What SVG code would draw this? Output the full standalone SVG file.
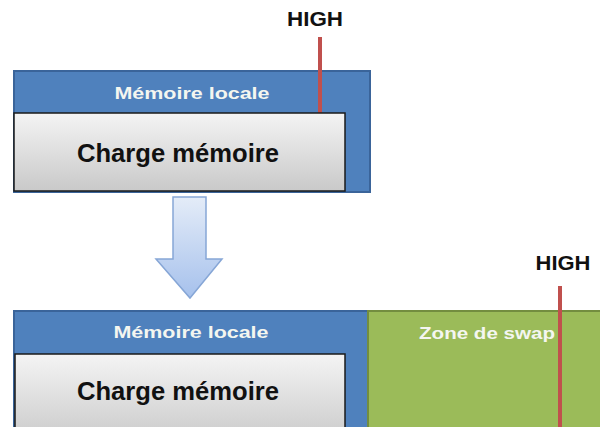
<svg xmlns="http://www.w3.org/2000/svg" width="600" height="427" viewBox="0 0 600 427">
<defs>
<linearGradient id="gray" x1="0" y1="0" x2="0" y2="1">
<stop offset="0" stop-color="#f4f4f4"/>
<stop offset="1" stop-color="#c9c9c9"/>
</linearGradient>
<linearGradient id="arrowg" x1="0" y1="0" x2="0" y2="1">
<stop offset="0" stop-color="#e4ecf8"/>
<stop offset="1" stop-color="#a6c1ec"/>
</linearGradient>
</defs>
<style>
.blue{fill:#4f81bd;stroke:#3a649a;stroke-width:2}
.green{fill:#9bbb59;stroke:#738d3f;stroke-width:2}
.load{fill:url(#gray);stroke:#1a1a1a;stroke-width:1.5}
.high{stroke:#c0504d;stroke-width:4}
.t{font-family:"Liberation Sans",Arial,sans-serif;font-weight:bold}
.w{fill:#f4f6f0;font-size:16px}
.k{fill:#111111}
</style>
<rect width="600" height="427" fill="#ffffff"/>
<g id="top-memory">
<rect class="blue" x="14" y="71" width="356" height="121"/>
<text class="t w" x="192" y="99" text-anchor="middle" textLength="155" lengthAdjust="spacingAndGlyphs">Mémoire locale</text>
</g>
<g id="top-high">
<line class="high" x1="320" y1="37" x2="320" y2="113"/>
<text class="t k" x="315" y="26" text-anchor="middle" font-size="20" textLength="56" lengthAdjust="spacingAndGlyphs">HIGH</text>
</g>
<g id="top-load">
<rect class="load" x="14" y="113" width="331" height="78"/>
<text class="t k" x="178" y="162" text-anchor="middle" font-size="26" textLength="202" lengthAdjust="spacingAndGlyphs">Charge mémoire</text>
</g>
<g id="transition-arrow">
<path d="M173,197 H206 V259 H222 L190,298 L156,259 H173 Z" fill="url(#arrowg)" stroke="#86a6d6" stroke-width="1.5"/>
</g>
<g id="bottom-memory">
<rect class="blue" x="14" y="311" width="354" height="130"/>
<text class="t w" x="191" y="338" text-anchor="middle" textLength="155" lengthAdjust="spacingAndGlyphs">Mémoire locale</text>
</g>
<g id="swap-zone">
<rect class="green" x="368" y="311" width="240" height="130"/>
<text class="t w" x="487" y="339" text-anchor="middle" textLength="136" lengthAdjust="spacingAndGlyphs">Zone de swap</text>
</g>
<g id="bottom-high">
<line class="high" x1="560" y1="286" x2="560" y2="427"/>
<text class="t k" x="563" y="270" text-anchor="middle" font-size="20" textLength="55" lengthAdjust="spacingAndGlyphs">HIGH</text>
</g>
<g id="bottom-load">
<rect class="load" x="15" y="354" width="330" height="90"/>
<text class="t k" x="178" y="400" text-anchor="middle" font-size="26" textLength="202" lengthAdjust="spacingAndGlyphs">Charge mémoire</text>
</g>
<g id="connectors"></g>
</svg>
